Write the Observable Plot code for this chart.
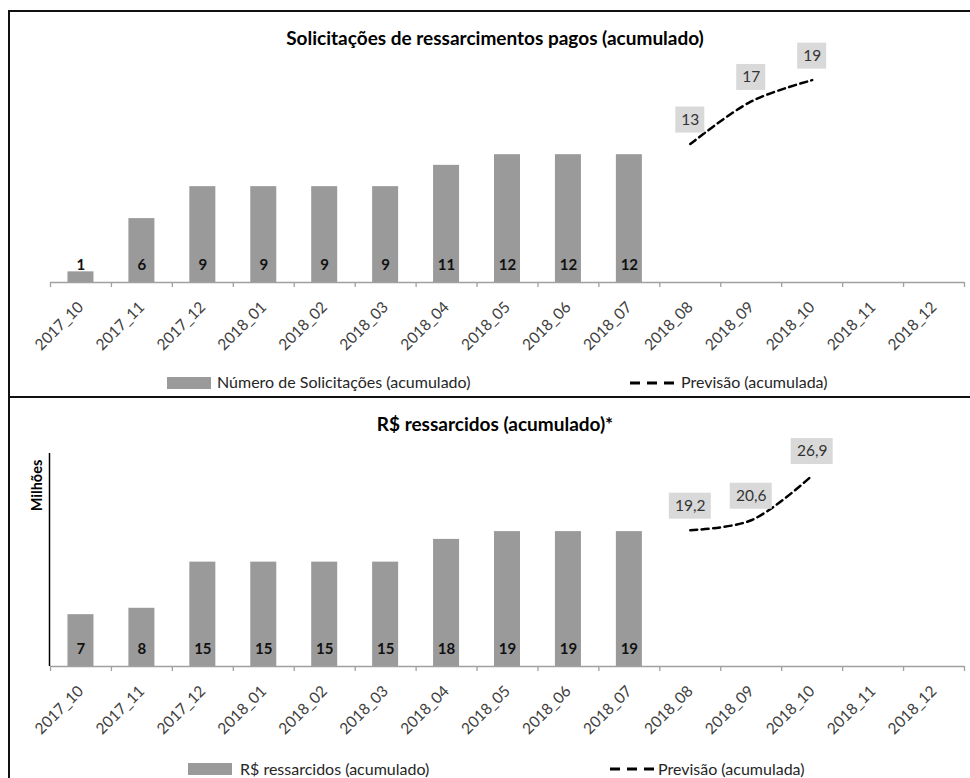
<!DOCTYPE html>
<html>
<head>
<meta charset="utf-8">
<script src="https://cdn.jsdelivr.net/npm/d3@7"></script>
<script src="https://cdn.jsdelivr.net/npm/@observablehq/plot@0.6"></script>
<style>
  body { margin: 0; background: #fff; font-family: Lato, "Noto Sans", sans-serif; }
  #frame { position: absolute; left: 8px; top: 10px; width: 990px; height: 800px;
           border-left: 2px solid #111; border-top: 2px solid #111; z-index: 2; pointer-events: none; }
  #divider { position: absolute; left: 8px; top: 396px; width: 990px; height: 2px; background: #111; z-index: 2; }
  .title { position: absolute; left: 0; width: 990px; text-align: center; font-weight: bold;
           font-size: 19px; color: #000; line-height: 22px; }
  .panel { position: absolute; left: 0; }
  .leg { position: absolute; font-size: 16px; color: #262626; line-height: 18px; white-space: nowrap; }
  .sw { position: absolute; width: 44px; height: 12px; background: #9a9a9a; }
  .dash { position: absolute; width: 44px; height: 12px; }
</style>
</head>
<body>
<div id="frame"></div>
<div id="divider"></div>

<div class="title" style="top:27px;">Solicitações de ressarcimentos pagos (acumulado)</div>
<div class="panel" id="p1" style="top:30px;"></div>
<div class="sw" style="left:167px; top:377px;"></div>
<div class="leg" style="left:217px; top:373px;">Número de Solicitações (acumulado)</div>
<svg class="dash" style="left:630px; top:377px;"><line x1="0" x2="44" y1="6" y2="6" stroke="#000" stroke-width="3" stroke-dasharray="10,7"/></svg>
<div class="leg" style="left:681px; top:373px;">Previsão (acumulada)</div>

<div class="title" style="top:413px;">R$ ressarcidos (acumulado)*</div>
<div class="panel" id="p2" style="top:430px;"></div>
<div class="sw" style="left:188px; top:763px;"></div>
<div class="leg" style="left:240px; top:760px;">R$ ressarcidos (acumulado)</div>
<svg class="dash" style="left:610px; top:763px;"><line x1="0" x2="44" y1="6" y2="6" stroke="#000" stroke-width="3" stroke-dasharray="10,7"/></svg>
<div class="leg" style="left:658px; top:760px;">Previsão (acumulada)</div>

<script>
// ---- data ----
const months = ["2017_10","2017_11","2017_12","2018_01","2018_02","2018_03","2018_04",
                "2018_05","2018_06","2018_07","2018_08","2018_09","2018_10","2018_11","2018_12"];
const barMonths = ["2017_10","2017_11","2017_12","2018_01","2018_02","2018_03","2018_04",
                   "2018_05","2018_06","2018_07"];
const solicitacoes = [1, 6, 9, 9, 9, 9, 11, 12, 12, 12];
const forecastMonths = ["2018_08","2018_09","2018_10"];
const previsaoSolicitacoes = [13, 17, 19];
const ressarcidos = [7.3, 8.2, 14.7, 14.7, 14.7, 14.7, 17.9, 19.0, 19.0, 19.0];
const previsaoRessarcidos = [19.2, 20.6, 26.9];

const W = 970, ML = 50, MR = 6;
const bw = (W - ML - MR) / months.length;
const BAR_W = 26;

function chart({bars, fc, ymax, height, mt, mb, boxW, fcFmt, yLine, yLabel}) {
  const barData = bars.map((v, i) => ({m: barMonths[i], v}));
  const fcData = fc.map((v, i) => ({m: forecastMonths[i], v}));
  const marks = [
    Plot.barY(barData, {x: "m", y: "v", fill: "#9a9a9a",
      insetLeft: (bw - BAR_W) / 2, insetRight: (bw - BAR_W) / 2}),
    Plot.ruleY([0], {stroke: "#a0a0a0", strokeWidth: 1.3}),
    Plot.ruleX(months, {x: d => d, dx: -bw / 2, y1: 0, y2: 0, insetBottom: -5, stroke: "#a0a0a0", strokeWidth: 1.3}),
    Plot.ruleX([months[months.length - 1]], {x: d => d, dx: bw / 2, y1: 0, y2: 0, insetBottom: -5, stroke: "#a0a0a0", strokeWidth: 1.3}),
    Plot.text(barData, {x: "m", y: 0, dy: -17, text: d => d3.format(".0f")(d.v),
      fontWeight: "bold", fontSize: 15, fill: "#111"}),
    Plot.text(months, {x: d => d, y: 0, dy: 22, dx: 0, rotate: -45, textAnchor: "end",
      fontSize: 15.5, fill: "#404040"}),
    Plot.line(fcData, {x: "m", y: "v", curve: "catmull-rom", stroke: "#000",
      strokeWidth: 2.5, strokeDasharray: "7,4.5"}),
    Plot.barY(fcData, {x: "m", y1: "v", y2: "v", insetTop: -37, insetBottom: 11,
      insetLeft: (bw - boxW) / 2, insetRight: (bw - boxW) / 2, fill: "#d9d9d9"}),
    Plot.text(fcData, {x: "m", y: "v", dy: -24, text: d => fcFmt(d.v), fontSize: 15.5, fill: "#333"})
  ];
  if (yLine) {
    marks.push(Plot.ruleX([months[0]], {x: d => d, dx: -bw / 2 - 1, y1: 0, y2: ymax, stroke: "#000", strokeWidth: 1.5}));
  }
  if (yLabel) {
    marks.push(Plot.text([yLabel], {frameAnchor: "top-left", dx: -13, dy: 32, rotate: -90,
      textAnchor: "middle", lineAnchor: "middle",
      fontWeight: "bold", fontSize: 14.5, fill: "#000", text: d => d}));
  }
  return Plot.plot({
    width: W, height, marginLeft: ML, marginRight: MR, marginTop: mt, marginBottom: mb,
    x: {type: "band", domain: months, padding: 0, round: false, axis: null},
    y: {domain: [0, ymax], axis: null},
    style: {background: "none", fontFamily: "Lato, 'Noto Sans', sans-serif", overflow: "visible"},
    marks
  });
}

document.getElementById("p1").append(chart({
  bars: solicitacoes, fc: previsaoSolicitacoes, ymax: 20,
  height: 330, mt: 39, mb: 78, boxW: 29, fcFmt: d3.format("d"), yLine: false
}));

const ptBR = d3.formatLocale({decimal: ",", thousands: ".", grouping: [3], currency: ["R$", ""]});
document.getElementById("p2").append(chart({
  bars: ressarcidos, fc: previsaoRessarcidos, ymax: 30,
  height: 348, mt: 23, mb: 112, boxW: 42, fcFmt: ptBR.format(".1f"), yLine: true, yLabel: "Milhões"
}));
</script>
</body>
</html>
